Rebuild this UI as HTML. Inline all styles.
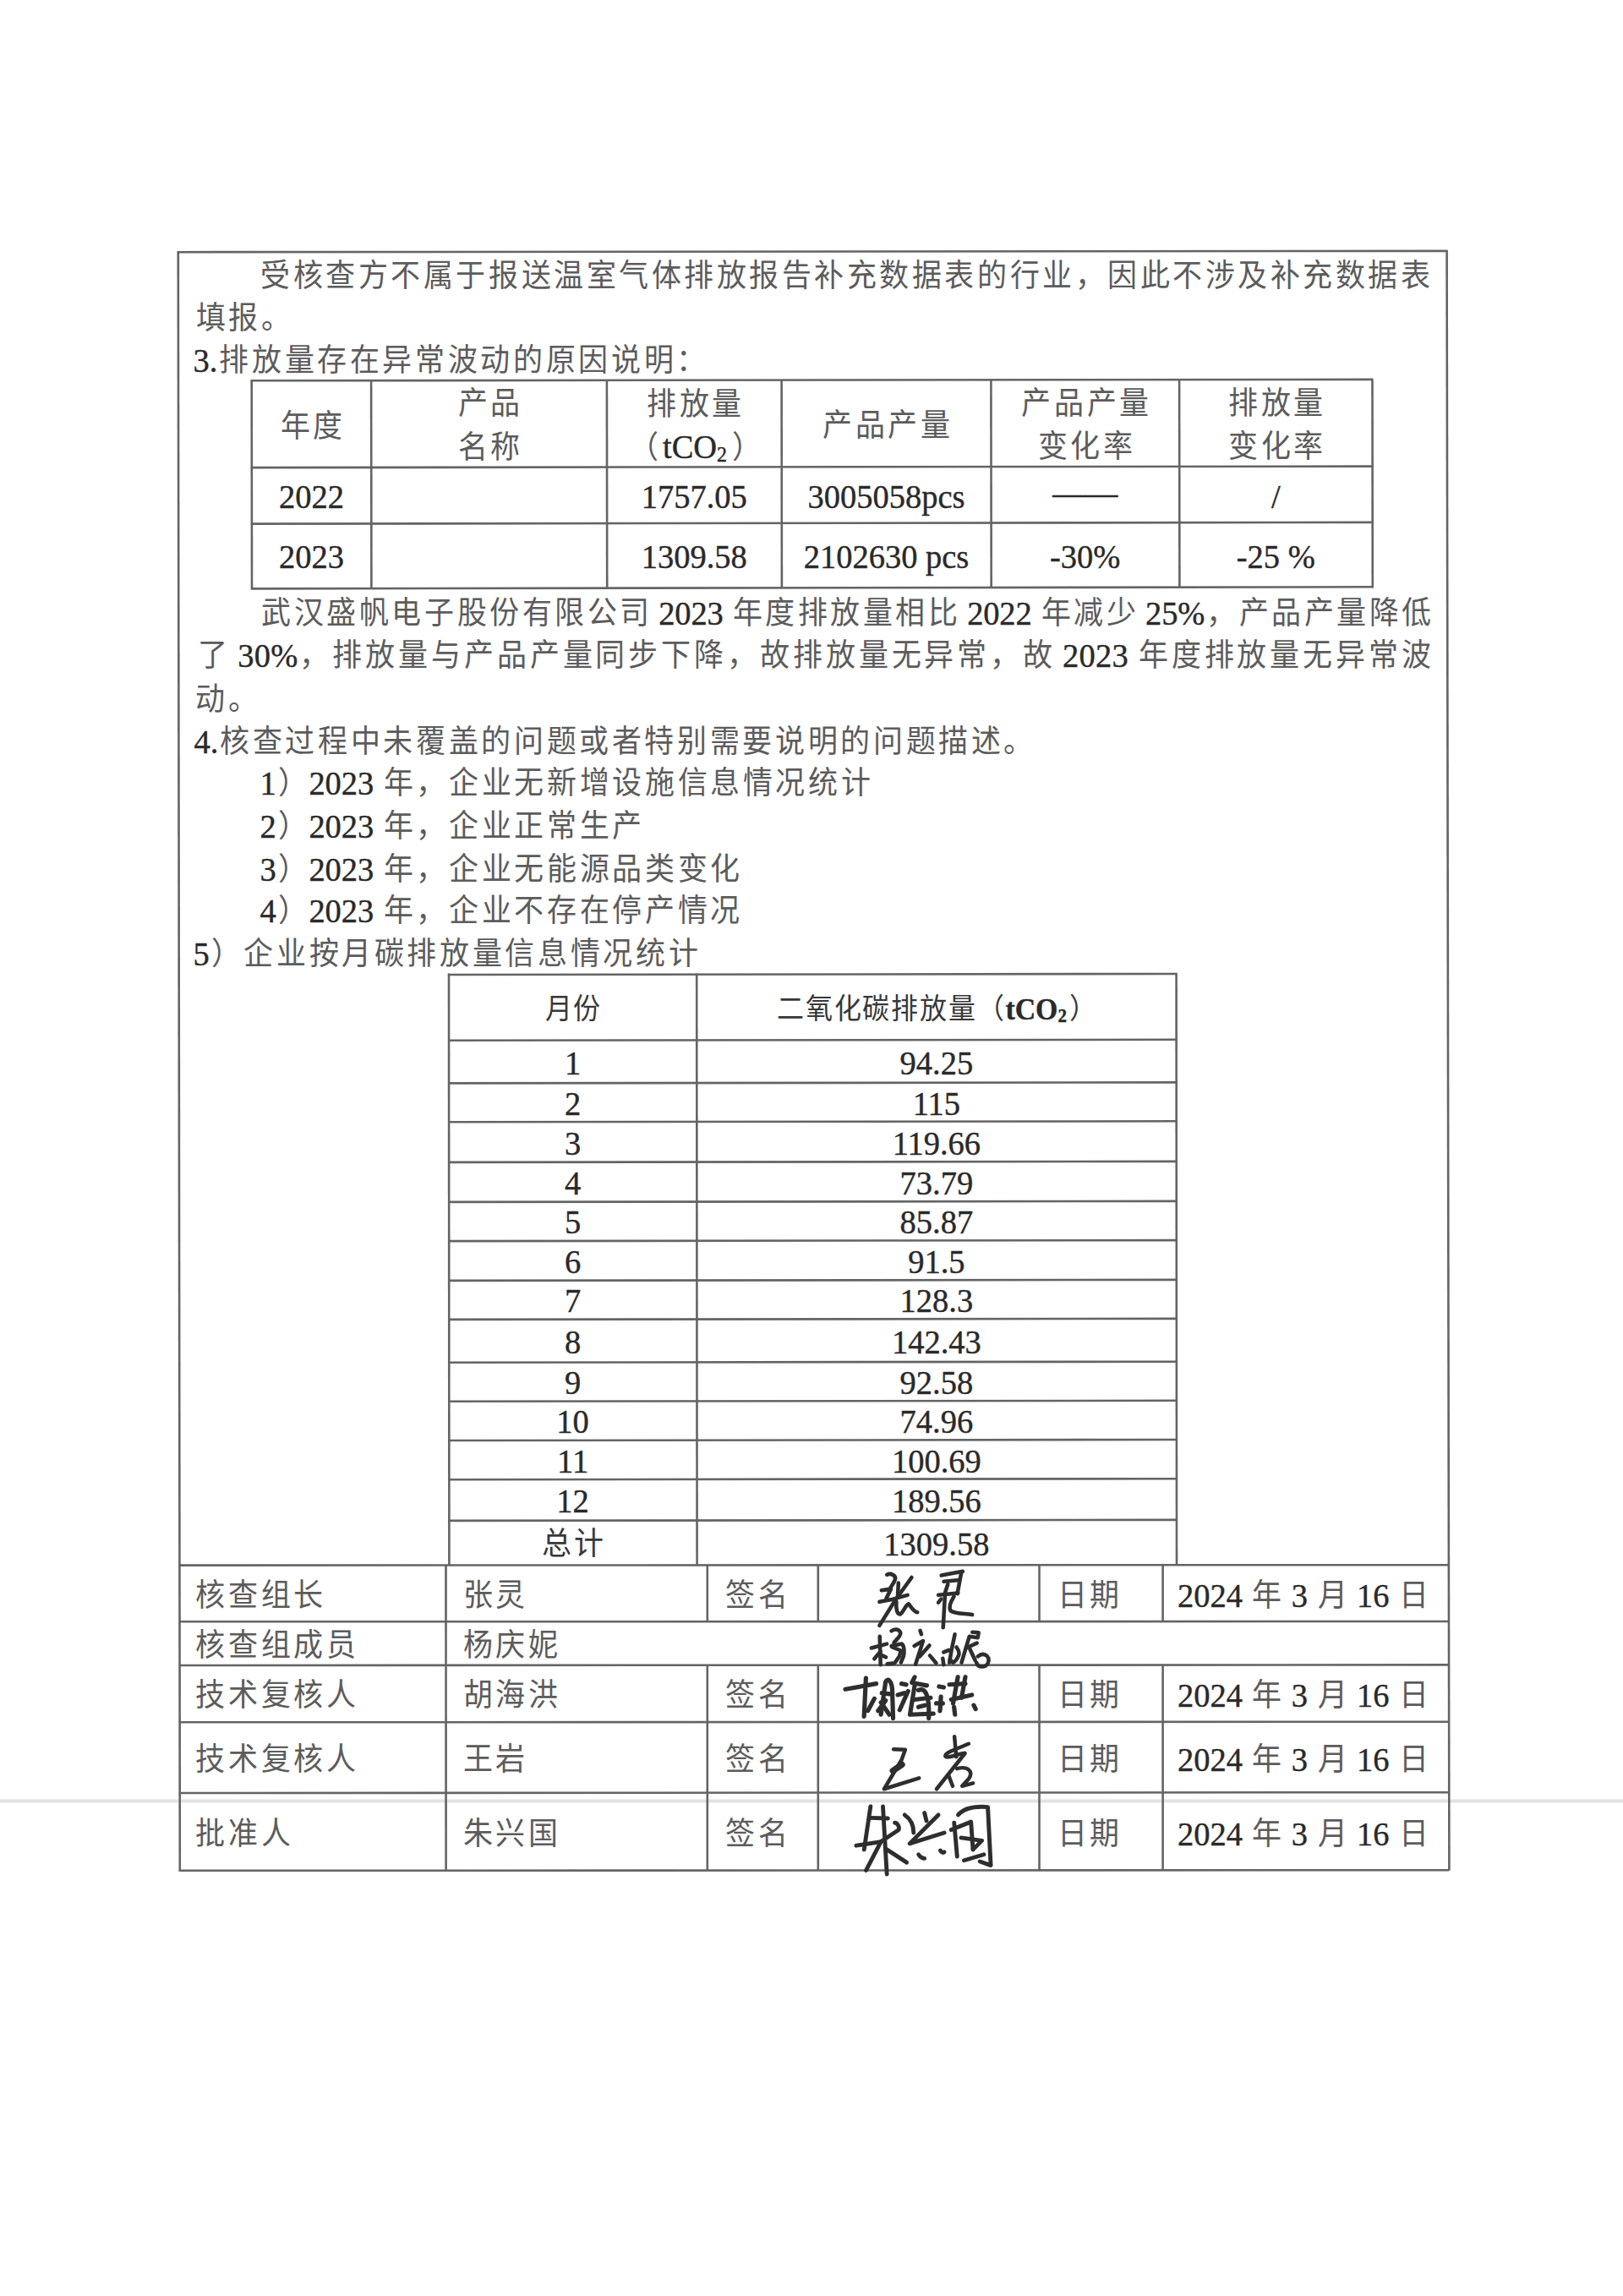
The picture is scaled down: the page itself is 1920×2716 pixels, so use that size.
<!DOCTYPE html>
<html lang="zh-CN"><head><meta charset="utf-8"><title>doc</title>
<style>
html,body{margin:0;padding:0;background:#fff;}
body{width:1920px;height:2716px;overflow:hidden;position:relative;}
svg{position:absolute;left:0;top:0;}
text{font-family:"Liberation Serif",serif;text-spacing-trim:space-all;}
tspan.c{fill:#5c5c5c;}
tspan.n{fill:#2a2a2a;stroke:#2a2a2a;stroke-width:0.4px;}
</style></head><body>
<svg width="1920" height="2716" viewBox="0 0 1920 2716">
<rect x="0" y="2128.5" width="1920" height="4" fill="#e2e2e2"/>
<line x1="210.8" y1="297.5" x2="212.8" y2="2213.5" stroke="#646464" stroke-width="2.6"/>
<line x1="1711.6" y1="296.8" x2="1714.4" y2="2212.8" stroke="#646464" stroke-width="2.6"/>
<line x1="209.7" y1="298.2" x2="1712.7" y2="296.9" stroke="#646464" stroke-width="2.6"/>
<line x1="296.7" y1="450.3" x2="1624.5" y2="448.9" stroke="#646464" stroke-width="2.6"/>
<line x1="296.7" y1="553.1" x2="1624.5" y2="551.6" stroke="#646464" stroke-width="2.6"/>
<line x1="296.7" y1="619.6" x2="1624.5" y2="617.9" stroke="#646464" stroke-width="2.6"/>
<line x1="296.7" y1="696.4" x2="1624.5" y2="694.3" stroke="#646464" stroke-width="2.6"/>
<line x1="297.7" y1="449.6" x2="298.0" y2="695.6" stroke="#646464" stroke-width="2.6"/>
<line x1="439.1" y1="449.6" x2="439.40000000000003" y2="695.6" stroke="#646464" stroke-width="2.6"/>
<line x1="717.9" y1="449.6" x2="718.1999999999999" y2="695.6" stroke="#646464" stroke-width="2.6"/>
<line x1="924.6" y1="449.6" x2="924.9" y2="695.6" stroke="#646464" stroke-width="2.6"/>
<line x1="1172.4" y1="449.6" x2="1172.7" y2="695.6" stroke="#646464" stroke-width="2.6"/>
<line x1="1395.1" y1="449.6" x2="1395.3999999999999" y2="695.6" stroke="#646464" stroke-width="2.6"/>
<line x1="1623.5" y1="449.6" x2="1623.8" y2="695.6" stroke="#646464" stroke-width="2.6"/>
<line x1="530.0" y1="1153.0" x2="1392.6" y2="1152.0" stroke="#646464" stroke-width="2.6"/>
<line x1="530.0" y1="1230.8" x2="1392.6" y2="1229.8" stroke="#646464" stroke-width="2.6"/>
<line x1="530.0" y1="1281.4" x2="1392.6" y2="1280.4" stroke="#646464" stroke-width="2.6"/>
<line x1="530.0" y1="1327.3" x2="1392.6" y2="1326.3" stroke="#646464" stroke-width="2.6"/>
<line x1="530.0" y1="1374.9" x2="1392.6" y2="1373.9" stroke="#646464" stroke-width="2.6"/>
<line x1="530.0" y1="1421.9" x2="1392.6" y2="1420.9" stroke="#646464" stroke-width="2.6"/>
<line x1="530.0" y1="1468.1" x2="1392.6" y2="1467.1" stroke="#646464" stroke-width="2.6"/>
<line x1="530.0" y1="1514.9" x2="1392.6" y2="1513.9" stroke="#646464" stroke-width="2.6"/>
<line x1="530.0" y1="1560.9" x2="1392.6" y2="1559.9" stroke="#646464" stroke-width="2.6"/>
<line x1="530.0" y1="1611.7" x2="1392.6" y2="1610.7" stroke="#646464" stroke-width="2.6"/>
<line x1="530.0" y1="1657.8" x2="1392.6" y2="1656.8" stroke="#646464" stroke-width="2.6"/>
<line x1="530.0" y1="1704.0" x2="1392.6" y2="1703.0" stroke="#646464" stroke-width="2.6"/>
<line x1="530.0" y1="1750.2" x2="1392.6" y2="1749.2" stroke="#646464" stroke-width="2.6"/>
<line x1="530.0" y1="1798.9" x2="1392.6" y2="1797.9" stroke="#646464" stroke-width="2.6"/>
<line x1="531.0" y1="1151.5" x2="531.4" y2="1851.5" stroke="#646464" stroke-width="2.6"/>
<line x1="824.2" y1="1151.5" x2="824.6" y2="1851.5" stroke="#646464" stroke-width="2.6"/>
<line x1="1391.6" y1="1151.5" x2="1392.0" y2="1851.5" stroke="#646464" stroke-width="2.6"/>
<line x1="211.8" y1="1851.6" x2="1714.2" y2="1851.2" stroke="#646464" stroke-width="2.6"/>
<line x1="211.8" y1="1918.3" x2="1714.2" y2="1918.0" stroke="#646464" stroke-width="2.6"/>
<line x1="211.8" y1="1970.0" x2="1714.2" y2="1969.4" stroke="#646464" stroke-width="2.6"/>
<line x1="211.8" y1="2037.3" x2="1714.2" y2="2036.7" stroke="#646464" stroke-width="2.6"/>
<line x1="211.8" y1="2121.0" x2="1714.2" y2="2120.2" stroke="#646464" stroke-width="2.6"/>
<line x1="211.8" y1="2212.8" x2="1714.2" y2="2212.2" stroke="#646464" stroke-width="2.6"/>
<line x1="527.5" y1="1851" x2="527.6" y2="2213" stroke="#646464" stroke-width="2.6"/>
<line x1="836.8" y1="1851" x2="836.8" y2="1918.5" stroke="#646464" stroke-width="2.6"/>
<line x1="836.8" y1="1969.5" x2="836.8" y2="2213" stroke="#646464" stroke-width="2.6"/>
<line x1="967.8" y1="1851" x2="967.8" y2="1918.5" stroke="#646464" stroke-width="2.6"/>
<line x1="967.8" y1="1969.5" x2="967.8" y2="2213" stroke="#646464" stroke-width="2.6"/>
<line x1="1229.5" y1="1851" x2="1229.5" y2="1918.5" stroke="#646464" stroke-width="2.6"/>
<line x1="1229.5" y1="1969.5" x2="1229.5" y2="2213" stroke="#646464" stroke-width="2.6"/>
<line x1="1375.6" y1="1851" x2="1375.6" y2="1918.5" stroke="#646464" stroke-width="2.6"/>
<line x1="1375.6" y1="1969.5" x2="1375.6" y2="2213" stroke="#646464" stroke-width="2.6"/>
<g transform="translate(1030,1850) scale(0.08010)" fill="none" stroke="#2e2e2e" stroke-width="57.2" stroke-linecap="round" stroke-linejoin="round"><path d="M240,160 C300,130 380,170 360,230 C340,290 300,330 280,380"/><path d="M160,390 L300,370 L230,510"/><path d="M130,560 L330,520 L545,460"/><path d="M605,200 L360,540 L130,910"/><path d="M410,280 L400,470"/><path d="M380,560 C370,650 390,760 440,740 C490,700 520,600 560,590 C600,640 640,710 690,715"/><path d="M1045,170 L1360,110"/><path d="M1340,120 L1280,440"/><path d="M1080,260 L1290,240"/><path d="M1000,460 L1290,430"/><path d="M1140,300 L1100,420 L1070,940"/><path d="M1040,520 L1000,570"/><path d="M1230,480 C1180,560 1150,640 1180,690 C1250,740 1400,730 1500,750"/></g>
<g transform="translate(0,0) scale(1.00000)" fill="none" stroke="#2e2e2e" stroke-width="4.55" stroke-linecap="round" stroke-linejoin="round"><path d="M1040.7,1935.7 L1041.7,1969.2"/><path d="M1030.8,1949.5 L1049.1,1944.6"/><path d="M1041.7,1953.4 L1034.3,1962.3"/><path d="M1042.7,1957.9 L1048.1,1960.3"/><path d="M1054.5,1929.3 C1058,1927 1063,1926 1065.3,1931.3 C1066,1935 1060,1940 1057.5,1943.1"/><path d="M1054.5,1947 L1066.8,1944.6 C1070,1947 1070,1955 1068.8,1959.4 L1065.8,1966.7"/><path d="M1055.5,1948.5 L1065.8,1952.5 L1063.9,1959.4 L1058.4,1967.2 L1049.6,1968.2"/><path d="M1088.5,1928.8 L1090,1933.2"/><path d="M1081.6,1947 L1092,1941.1 L1083.1,1968.7"/><path d="M1088,1959.4 L1099.5,1946.5"/><path d="M1100,1958.4 L1107.4,1967.2"/><path d="M1129.6,1933.2 L1125.6,1952 L1123.2,1966.7"/><path d="M1116.3,1954.4 L1122.7,1952"/><path d="M1115.3,1961.8 L1116.3,1969.2"/><path d="M1131.5,1948.5 C1134,1952 1135,1956 1134,1958.4 C1132,1963 1129,1966 1127.6,1966.7 L1123.7,1963.3"/><path d="M1150.3,1930.8 L1157.7,1931.3 L1156.7,1937.2 L1146.8,1935.7 L1137.5,1966.7"/><path d="M1155.7,1943.6 L1142.9,1949.5"/><path d="M1147.3,1950.5 L1153.7,1964.3"/><path d="M1156.7,1959.4 C1164.1,1953.4 1171.5,1959.4 1169,1966.7 C1166.5,1973.2 1156.7,1973.2 1155.2,1966.7"/></g>
<g transform="translate(990,1975) scale(0.11091)" fill="none" stroke="#2e2e2e" stroke-width="46.800000000000004" stroke-linecap="round" stroke-linejoin="round"><path d="M90,210 L420,150"/><path d="M310,90 L290,500"/><path d="M330,440 L400,310"/><path d="M470,480 L520,130 C540,90 580,110 590,200 L600,520"/><path d="M480,250 L560,260"/><path d="M470,350 L560,480"/><path d="M520,330 L440,440"/><path d="M690,150 L740,160"/><path d="M650,270 L720,250"/><path d="M670,430 L760,230"/><path d="M830,80 L800,140 L960,170"/><path d="M830,170 L780,480 L1030,470"/><path d="M870,220 C950,180 990,300 980,520"/><path d="M830,320 L1000,300"/><path d="M870,400 L940,380"/><path d="M1090,180 L1140,190"/><path d="M1060,360 L1130,360"/><path d="M1110,290 L1100,440"/><path d="M1200,160 L1370,150"/><path d="M1290,80 L1240,360"/><path d="M1370,80 L1330,300"/><path d="M1220,320 L1440,270"/><path d="M1250,400 L1260,480"/><path d="M1460,380 L1480,420"/></g>
<g transform="translate(1020,2030) scale(0.08626)" fill="none" stroke="#2e2e2e" stroke-width="52.0" stroke-linecap="round" stroke-linejoin="round"><path d="M430,455 L590,460 L540,600 L300,1000 L780,850"/><path d="M420,750 L545,665" stroke-width="85"/><path d="M1265,280 L1290,560"/><path d="M1460,380 C1300,450 1130,500 1140,550 C1160,590 1300,520 1400,510"/><path d="M1410,510 L1020,1000"/><path d="M1180,800 L1240,960"/><path d="M1300,720 C1450,680 1530,760 1460,860 L1370,960 L1520,920"/></g>
<g transform="translate(1000,2120) scale(0.11707)" fill="none" stroke="#2e2e2e" stroke-width="41.6" stroke-linecap="round" stroke-linejoin="round"><path d="M255,145 L190,580"/><path d="M255,260 L430,265"/><path d="M110,540 L360,500 L540,380 C550,340 520,310 500,310"/><path d="M380,145 L420,830"/><path d="M360,500 L210,790"/><path d="M420,580 L620,710"/><path d="M600,230 C660,270 690,330 690,410"/><path d="M800,210 L820,290"/><path d="M940,230 L650,520 L1000,410"/><path d="M740,630 C760,660 790,670 800,670"/><path d="M960,590 C975,610 990,615 1000,605"/><path d="M1100,310 L1130,650"/><path d="M1140,230 C1200,160 1300,140 1440,150 L1470,740 L1360,700"/><path d="M1070,380 L1270,300 L1290,580"/><path d="M1170,460 L1380,490 L1290,580"/><path d="M1200,690 L1400,630"/></g>
<text transform="matrix(1 0 0 1.06 0 -19.55)" x="306.4" y="338.8" textLength="1387.4" lengthAdjust="spacing"><tspan class="c" dx="1.85" style="font-size:35px;letter-spacing:3.70px;baseline-shift:1px;">受核查方不属于报送温室气体排放报告补充数据表的行业，因此不涉及补充数据表</tspan></text>
<text transform="matrix(1 0 0 1.06 0 -22.56)" x="230.0" y="389.0"><tspan class="c" dx="1.85" style="font-size:35px;letter-spacing:3.70px;baseline-shift:1px;">填报。</tspan></text>
<text transform="matrix(1 0 0 1.06 0 -25.59)" x="228.6" y="439.5"><tspan class="n" style="font-size:38.5px">3.</tspan><tspan class="c" dx="1.85" style="font-size:35px;letter-spacing:3.70px;baseline-shift:1px;">排放量存在异常波动的原因说明：</tspan></text>
<text transform="matrix(1 0 0 1.06 0 -30.27)" x="368.4" y="517.5" text-anchor="middle"><tspan class="c" dx="1.85" style="font-size:35px;letter-spacing:3.70px;baseline-shift:1px;">年度</tspan></text>
<text transform="matrix(1 0 0 1.06 0 -28.65)" x="578.5" y="490.5" text-anchor="middle"><tspan class="c" dx="1.85" style="font-size:35px;letter-spacing:3.70px;baseline-shift:1px;">产品</tspan></text>
<text transform="matrix(1 0 0 1.06 0 -31.74)" x="578.5" y="542.0" text-anchor="middle"><tspan class="c" dx="1.85" style="font-size:35px;letter-spacing:3.70px;baseline-shift:1px;">名称</tspan></text>
<text transform="matrix(1 0 0 1.06 0 -28.71)" x="821.25" y="491.5" text-anchor="middle"><tspan class="c" dx="1.85" style="font-size:35px;letter-spacing:3.70px;baseline-shift:1px;">排放量</tspan></text>
<text transform="matrix(1 0 0 1.06 0 -31.68)" x="822.05" y="541" text-anchor="middle"><tspan class="c" style="font-size:35px;letter-spacing:5.5px">（</tspan><tspan class="n" style="font-size:38.5px">tCO</tspan><tspan class="n" style="font-size:24px;letter-spacing:5.5px" dy="4">2</tspan><tspan class="c" dy="-4" style="font-size:35px">）</tspan></text>
<text transform="matrix(1 0 0 1.06 0 -30.22)" x="1048.5" y="516.6" text-anchor="middle"><tspan class="c" dx="1.85" style="font-size:35px;letter-spacing:3.70px;baseline-shift:1px;">产品产量</tspan></text>
<text transform="matrix(1 0 0 1.06 0 -28.66)" x="1283.75" y="490.7" text-anchor="middle"><tspan class="c" dx="1.85" style="font-size:35px;letter-spacing:3.70px;baseline-shift:1px;">产品产量</tspan></text>
<text transform="matrix(1 0 0 1.06 0 -31.72)" x="1283.75" y="541.7" text-anchor="middle"><tspan class="c" dx="1.85" style="font-size:35px;letter-spacing:3.70px;baseline-shift:1px;">变化率</tspan></text>
<text transform="matrix(1 0 0 1.06 0 -28.66)" x="1509.3" y="490.7" text-anchor="middle"><tspan class="c" dx="1.85" style="font-size:35px;letter-spacing:3.70px;baseline-shift:1px;">排放量</tspan></text>
<text transform="matrix(1 0 0 1.06 0 -31.72)" x="1509.3" y="541.7" text-anchor="middle"><tspan class="c" dx="1.85" style="font-size:35px;letter-spacing:3.70px;baseline-shift:1px;">变化率</tspan></text>
<text transform="matrix(1 0 0 1.06 0 -35.23)" x="368.4" y="600.2" text-anchor="middle"><tspan class="n" style="font-size:38.5px">2022</tspan></text>
<text transform="matrix(1 0 0 1.06 0 -35.23)" x="821.25" y="600.2" text-anchor="middle"><tspan class="n" style="font-size:38.5px">1757.05</tspan></text>
<text transform="matrix(1 0 0 1.06 0 -35.23)" x="1048.5" y="600.2" text-anchor="middle"><tspan class="n" style="font-size:38.5px">3005058pcs</tspan></text>
<text transform="matrix(1 0 0 1.06 0 -34.93)" x="1283.75" y="595.2" text-anchor="middle"><tspan class="n" style="font-size:38.5px">——</tspan></text>
<text transform="matrix(1 0 0 1.06 0 -35.23)" x="1509.3" y="600.2" text-anchor="middle"><tspan class="n" style="font-size:38.5px">/</tspan></text>
<text transform="matrix(1 0 0 1.06 0 -39.51)" x="368.4" y="671.5" text-anchor="middle"><tspan class="n" style="font-size:38.5px">2023</tspan></text>
<text transform="matrix(1 0 0 1.06 0 -39.51)" x="821.25" y="671.5" text-anchor="middle"><tspan class="n" style="font-size:38.5px">1309.58</tspan></text>
<text transform="matrix(1 0 0 1.06 0 -39.51)" x="1048.5" y="671.5" text-anchor="middle"><tspan class="n" style="font-size:38.5px">2102630 pcs</tspan></text>
<text transform="matrix(1 0 0 1.06 0 -39.51)" x="1283.75" y="671.5" text-anchor="middle"><tspan class="n" style="font-size:38.5px">-30%</tspan></text>
<text transform="matrix(1 0 0 1.06 0 -39.51)" x="1509.3" y="671.5" text-anchor="middle"><tspan class="n" style="font-size:38.5px">-25 %</tspan></text>
<text transform="matrix(1 0 0 1.06 0 -43.49)" x="307.6" y="737.8" textLength="1387.3000000000002" lengthAdjust="spacing"><tspan class="c" dx="1.85" style="font-size:35px;letter-spacing:3.70px;baseline-shift:1px;">武汉盛帆电子股份有限公司</tspan><tspan class="n" dx="-1.85" style="font-size:38.5px"> 2023 </tspan><tspan class="c" dx="1.85" style="font-size:35px;letter-spacing:3.70px;baseline-shift:1px;">年度排放量相比</tspan><tspan class="n" dx="-1.85" style="font-size:38.5px"> 2022 </tspan><tspan class="c" dx="1.85" style="font-size:35px;letter-spacing:3.70px;baseline-shift:1px;">年减少</tspan><tspan class="n" dx="-1.85" style="font-size:38.5px"> 25%</tspan><tspan class="c" dx="1.85" style="font-size:35px;letter-spacing:3.70px;baseline-shift:1px;">，产品产量降低</tspan></text>
<text transform="matrix(1 0 0 1.06 0 -46.50)" x="232.5" y="788.0" textLength="1462.2" lengthAdjust="spacing"><tspan class="c" dx="1.85" style="font-size:35px;letter-spacing:3.70px;baseline-shift:1px;">了</tspan><tspan class="n" dx="-1.85" style="font-size:38.5px"> 30%</tspan><tspan class="c" dx="1.85" style="font-size:35px;letter-spacing:3.70px;baseline-shift:1px;">，排放量与产品产量同步下降，故排放量无异常，故</tspan><tspan class="n" dx="-1.85" style="font-size:38.5px"> 2023 </tspan><tspan class="c" dx="1.85" style="font-size:35px;letter-spacing:3.70px;baseline-shift:1px;">年度排放量无异常波</tspan></text>
<text transform="matrix(1 0 0 1.06 0 -49.63)" x="229.4" y="840.2"><tspan class="c" dx="1.85" style="font-size:35px;letter-spacing:3.70px;baseline-shift:1px;">动。</tspan></text>
<text transform="matrix(1 0 0 1.06 0 -52.64)" x="229.5" y="890.3"><tspan class="n" style="font-size:38.5px">4.</tspan><tspan class="c" dx="1.85" style="font-size:35px;letter-spacing:3.70px;baseline-shift:1px;">核查过程中未覆盖的问题或者特别需要说明的问题描述。</tspan></text>
<text transform="matrix(1 0 0 1.06 0 -55.58)" x="307.5" y="939.4"><tspan class="n" style="font-size:38.5px">1</tspan><tspan class="c" dx="1.85" style="font-size:35px;letter-spacing:3.70px;baseline-shift:1px;">）</tspan><tspan class="n" dx="-1.85" style="font-size:38.5px">2023 </tspan><tspan class="c" dx="1.85" style="font-size:35px;letter-spacing:3.70px;baseline-shift:1px;">年，企业无新增设施信息情况统计</tspan></text>
<text transform="matrix(1 0 0 1.06 0 -58.62)" x="307.5" y="990.0"><tspan class="n" style="font-size:38.5px">2</tspan><tspan class="c" dx="1.85" style="font-size:35px;letter-spacing:3.70px;baseline-shift:1px;">）</tspan><tspan class="n" dx="-1.85" style="font-size:38.5px">2023 </tspan><tspan class="c" dx="1.85" style="font-size:35px;letter-spacing:3.70px;baseline-shift:1px;">年，企业正常生产</tspan></text>
<text transform="matrix(1 0 0 1.06 0 -61.69)" x="307.5" y="1041.1"><tspan class="n" style="font-size:38.5px">3</tspan><tspan class="c" dx="1.85" style="font-size:35px;letter-spacing:3.70px;baseline-shift:1px;">）</tspan><tspan class="n" dx="-1.85" style="font-size:38.5px">2023 </tspan><tspan class="c" dx="1.85" style="font-size:35px;letter-spacing:3.70px;baseline-shift:1px;">年，企业无能源品类变化</tspan></text>
<text transform="matrix(1 0 0 1.06 0 -64.64)" x="307.5" y="1090.4"><tspan class="n" style="font-size:38.5px">4</tspan><tspan class="c" dx="1.85" style="font-size:35px;letter-spacing:3.70px;baseline-shift:1px;">）</tspan><tspan class="n" dx="-1.85" style="font-size:38.5px">2023 </tspan><tspan class="c" dx="1.85" style="font-size:35px;letter-spacing:3.70px;baseline-shift:1px;">年，企业不存在停产情况</tspan></text>
<text transform="matrix(1 0 0 1.06 0 -67.71)" x="228.5" y="1141.5"><tspan class="n" style="font-size:38.5px">5</tspan><tspan class="c" dx="1.85" style="font-size:35px;letter-spacing:3.70px;baseline-shift:1px;">）企业按月碳排放量信息情况统计</tspan></text>
<text transform="matrix(1 0 0 1.06 0 -71.55)" x="677.6" y="1205.5" text-anchor="middle"><tspan class="c" dx="0.90" style="font-size:32px;letter-spacing:1.80px;baseline-shift:1px;fill:#383838">月份</tspan></text>
<text transform="matrix(1 0 0 1.06 0 -71.55)" x="1107.9" y="1205.5" text-anchor="middle"><tspan class="c" style="font-size:32px;letter-spacing:1.8px;baseline-shift:1px;fill:#383838">二氧化碳排放量（</tspan><tspan class="n" style="font-size:33.8px;font-weight:bold">tCO</tspan><tspan class="n" style="font-size:21px;font-weight:bold;letter-spacing:3px" dy="3">2</tspan><tspan class="c" dy="-3" style="font-size:32px;baseline-shift:1px;fill:#383838">）</tspan></text>
<text transform="matrix(1 0 0 1.06 0 -75.41)" x="677.6" y="1269.8" text-anchor="middle"><tspan class="n" style="font-size:38.5px">1</tspan></text>
<text transform="matrix(1 0 0 1.06 0 -75.41)" x="1107.9" y="1269.8" text-anchor="middle"><tspan class="n" style="font-size:38.5px">94.25</tspan></text>
<text transform="matrix(1 0 0 1.06 0 -78.30)" x="677.6" y="1318.0" text-anchor="middle"><tspan class="n" style="font-size:38.5px">2</tspan></text>
<text transform="matrix(1 0 0 1.06 0 -78.30)" x="1107.9" y="1318.0" text-anchor="middle"><tspan class="n" style="font-size:38.5px">115</tspan></text>
<text transform="matrix(1 0 0 1.06 0 -81.11)" x="677.6" y="1364.8" text-anchor="middle"><tspan class="n" style="font-size:38.5px">3</tspan></text>
<text transform="matrix(1 0 0 1.06 0 -81.11)" x="1107.9" y="1364.8" text-anchor="middle"><tspan class="n" style="font-size:38.5px">119.66</tspan></text>
<text transform="matrix(1 0 0 1.06 0 -83.95)" x="677.6" y="1412.1" text-anchor="middle"><tspan class="n" style="font-size:38.5px">4</tspan></text>
<text transform="matrix(1 0 0 1.06 0 -83.95)" x="1107.9" y="1412.1" text-anchor="middle"><tspan class="n" style="font-size:38.5px">73.79</tspan></text>
<text transform="matrix(1 0 0 1.06 0 -86.74)" x="677.6" y="1458.7" text-anchor="middle"><tspan class="n" style="font-size:38.5px">5</tspan></text>
<text transform="matrix(1 0 0 1.06 0 -86.74)" x="1107.9" y="1458.7" text-anchor="middle"><tspan class="n" style="font-size:38.5px">85.87</tspan></text>
<text transform="matrix(1 0 0 1.06 0 -89.53)" x="677.6" y="1505.2" text-anchor="middle"><tspan class="n" style="font-size:38.5px">6</tspan></text>
<text transform="matrix(1 0 0 1.06 0 -89.53)" x="1107.9" y="1505.2" text-anchor="middle"><tspan class="n" style="font-size:38.5px">91.5</tspan></text>
<text transform="matrix(1 0 0 1.06 0 -92.32)" x="677.6" y="1551.6" text-anchor="middle"><tspan class="n" style="font-size:38.5px">7</tspan></text>
<text transform="matrix(1 0 0 1.06 0 -92.32)" x="1107.9" y="1551.6" text-anchor="middle"><tspan class="n" style="font-size:38.5px">128.3</tspan></text>
<text transform="matrix(1 0 0 1.06 0 -95.22)" x="677.6" y="1600.0" text-anchor="middle"><tspan class="n" style="font-size:38.5px">8</tspan></text>
<text transform="matrix(1 0 0 1.06 0 -95.22)" x="1107.9" y="1600.0" text-anchor="middle"><tspan class="n" style="font-size:38.5px">142.43</tspan></text>
<text transform="matrix(1 0 0 1.06 0 -98.13)" x="677.6" y="1648.5" text-anchor="middle"><tspan class="n" style="font-size:38.5px">9</tspan></text>
<text transform="matrix(1 0 0 1.06 0 -98.13)" x="1107.9" y="1648.5" text-anchor="middle"><tspan class="n" style="font-size:38.5px">92.58</tspan></text>
<text transform="matrix(1 0 0 1.06 0 -100.90)" x="677.6" y="1694.6" text-anchor="middle"><tspan class="n" style="font-size:38.5px">10</tspan></text>
<text transform="matrix(1 0 0 1.06 0 -100.90)" x="1107.9" y="1694.6" text-anchor="middle"><tspan class="n" style="font-size:38.5px">74.96</tspan></text>
<text transform="matrix(1 0 0 1.06 0 -103.67)" x="677.6" y="1740.8" text-anchor="middle"><tspan class="n" style="font-size:38.5px">11</tspan></text>
<text transform="matrix(1 0 0 1.06 0 -103.67)" x="1107.9" y="1740.8" text-anchor="middle"><tspan class="n" style="font-size:38.5px">100.69</tspan></text>
<text transform="matrix(1 0 0 1.06 0 -106.52)" x="677.6" y="1788.3" text-anchor="middle"><tspan class="n" style="font-size:38.5px">12</tspan></text>
<text transform="matrix(1 0 0 1.06 0 -106.52)" x="1107.9" y="1788.3" text-anchor="middle"><tspan class="n" style="font-size:38.5px">189.56</tspan></text>
<text transform="matrix(1 0 0 1.06 0 -109.56)" x="677.6" y="1839.0" text-anchor="middle"><tspan class="c" dx="1.85" style="font-size:35px;letter-spacing:3.70px;baseline-shift:1px;fill:#383838">总计</tspan></text>
<text transform="matrix(1 0 0 1.06 0 -109.55)" x="1107.9" y="1838.9" text-anchor="middle"><tspan class="n" style="font-size:38.5px">1309.58</tspan></text>
<text transform="matrix(1 0 0 1.06 0 -113.23)" x="229.5" y="1900.1"><tspan class="c" dx="1.85" style="font-size:35px;letter-spacing:3.70px;baseline-shift:1px;">核查组长</tspan></text>
<text transform="matrix(1 0 0 1.06 0 -113.23)" x="546.0" y="1900.1"><tspan class="c" dx="1.85" style="font-size:35px;letter-spacing:3.70px;baseline-shift:1px;">张灵</tspan></text>
<text transform="matrix(1 0 0 1.06 0 -113.23)" x="856.5" y="1900.1"><tspan class="c" dx="1.85" style="font-size:35px;letter-spacing:3.70px;baseline-shift:1px;">签名</tspan></text>
<text transform="matrix(1 0 0 1.06 0 -113.23)" x="1249.0" y="1900.1"><tspan class="c" dx="1.85" style="font-size:35px;letter-spacing:3.70px;baseline-shift:1px;">日期</tspan></text>
<text transform="matrix(1 0 0 1.06 0 -113.23)" x="1393.0" y="1900.1"><tspan class="n" style="font-size:38.5px">2024 </tspan><tspan class="c" dx="1.85" style="font-size:35px;letter-spacing:3.70px;baseline-shift:1px;">年</tspan><tspan class="n" dx="-1.85" style="font-size:38.5px"> 3 </tspan><tspan class="c" dx="1.85" style="font-size:35px;letter-spacing:3.70px;baseline-shift:1px;">月</tspan><tspan class="n" dx="-1.85" style="font-size:38.5px"> 16 </tspan><tspan class="c" dx="1.85" style="font-size:35px;letter-spacing:3.70px;baseline-shift:1px;">日</tspan></text>
<text transform="matrix(1 0 0 1.06 0 -116.77)" x="229.5" y="1959.2"><tspan class="c" dx="1.85" style="font-size:35px;letter-spacing:3.70px;baseline-shift:1px;">核查组成员</tspan></text>
<text transform="matrix(1 0 0 1.06 0 -116.77)" x="546.0" y="1959.2"><tspan class="c" dx="1.85" style="font-size:35px;letter-spacing:3.70px;baseline-shift:1px;">杨庆妮</tspan></text>
<text transform="matrix(1 0 0 1.06 0 -120.34)" x="229.5" y="2018.6"><tspan class="c" dx="1.85" style="font-size:35px;letter-spacing:3.70px;baseline-shift:1px;">技术复核人</tspan></text>
<text transform="matrix(1 0 0 1.06 0 -120.34)" x="546.0" y="2018.6"><tspan class="c" dx="1.85" style="font-size:35px;letter-spacing:3.70px;baseline-shift:1px;">胡海洪</tspan></text>
<text transform="matrix(1 0 0 1.06 0 -120.34)" x="856.5" y="2018.6"><tspan class="c" dx="1.85" style="font-size:35px;letter-spacing:3.70px;baseline-shift:1px;">签名</tspan></text>
<text transform="matrix(1 0 0 1.06 0 -120.34)" x="1249.0" y="2018.6"><tspan class="c" dx="1.85" style="font-size:35px;letter-spacing:3.70px;baseline-shift:1px;">日期</tspan></text>
<text transform="matrix(1 0 0 1.06 0 -120.34)" x="1393.0" y="2018.6"><tspan class="n" style="font-size:38.5px">2024 </tspan><tspan class="c" dx="1.85" style="font-size:35px;letter-spacing:3.70px;baseline-shift:1px;">年</tspan><tspan class="n" dx="-1.85" style="font-size:38.5px"> 3 </tspan><tspan class="c" dx="1.85" style="font-size:35px;letter-spacing:3.70px;baseline-shift:1px;">月</tspan><tspan class="n" dx="-1.85" style="font-size:38.5px"> 16 </tspan><tspan class="c" dx="1.85" style="font-size:35px;letter-spacing:3.70px;baseline-shift:1px;">日</tspan></text>
<text transform="matrix(1 0 0 1.06 0 -124.87)" x="229.5" y="2094.1"><tspan class="c" dx="1.85" style="font-size:35px;letter-spacing:3.70px;baseline-shift:1px;">技术复核人</tspan></text>
<text transform="matrix(1 0 0 1.06 0 -124.87)" x="546.0" y="2094.1"><tspan class="c" dx="1.85" style="font-size:35px;letter-spacing:3.70px;baseline-shift:1px;">王岩</tspan></text>
<text transform="matrix(1 0 0 1.06 0 -124.87)" x="856.5" y="2094.1"><tspan class="c" dx="1.85" style="font-size:35px;letter-spacing:3.70px;baseline-shift:1px;">签名</tspan></text>
<text transform="matrix(1 0 0 1.06 0 -124.87)" x="1249.0" y="2094.1"><tspan class="c" dx="1.85" style="font-size:35px;letter-spacing:3.70px;baseline-shift:1px;">日期</tspan></text>
<text transform="matrix(1 0 0 1.06 0 -124.87)" x="1393.0" y="2094.1"><tspan class="n" style="font-size:38.5px">2024 </tspan><tspan class="c" dx="1.85" style="font-size:35px;letter-spacing:3.70px;baseline-shift:1px;">年</tspan><tspan class="n" dx="-1.85" style="font-size:38.5px"> 3 </tspan><tspan class="c" dx="1.85" style="font-size:35px;letter-spacing:3.70px;baseline-shift:1px;">月</tspan><tspan class="n" dx="-1.85" style="font-size:38.5px"> 16 </tspan><tspan class="c" dx="1.85" style="font-size:35px;letter-spacing:3.70px;baseline-shift:1px;">日</tspan></text>
<text transform="matrix(1 0 0 1.06 0 -130.13)" x="229.5" y="2181.9"><tspan class="c" dx="1.85" style="font-size:35px;letter-spacing:3.70px;baseline-shift:1px;">批准人</tspan></text>
<text transform="matrix(1 0 0 1.06 0 -130.13)" x="546.0" y="2181.9"><tspan class="c" dx="1.85" style="font-size:35px;letter-spacing:3.70px;baseline-shift:1px;">朱兴国</tspan></text>
<text transform="matrix(1 0 0 1.06 0 -130.13)" x="856.5" y="2181.9"><tspan class="c" dx="1.85" style="font-size:35px;letter-spacing:3.70px;baseline-shift:1px;">签名</tspan></text>
<text transform="matrix(1 0 0 1.06 0 -130.13)" x="1249.0" y="2181.9"><tspan class="c" dx="1.85" style="font-size:35px;letter-spacing:3.70px;baseline-shift:1px;">日期</tspan></text>
<text transform="matrix(1 0 0 1.06 0 -130.13)" x="1393.0" y="2181.9"><tspan class="n" style="font-size:38.5px">2024 </tspan><tspan class="c" dx="1.85" style="font-size:35px;letter-spacing:3.70px;baseline-shift:1px;">年</tspan><tspan class="n" dx="-1.85" style="font-size:38.5px"> 3 </tspan><tspan class="c" dx="1.85" style="font-size:35px;letter-spacing:3.70px;baseline-shift:1px;">月</tspan><tspan class="n" dx="-1.85" style="font-size:38.5px"> 16 </tspan><tspan class="c" dx="1.85" style="font-size:35px;letter-spacing:3.70px;baseline-shift:1px;">日</tspan></text>
</svg>
</body></html>
